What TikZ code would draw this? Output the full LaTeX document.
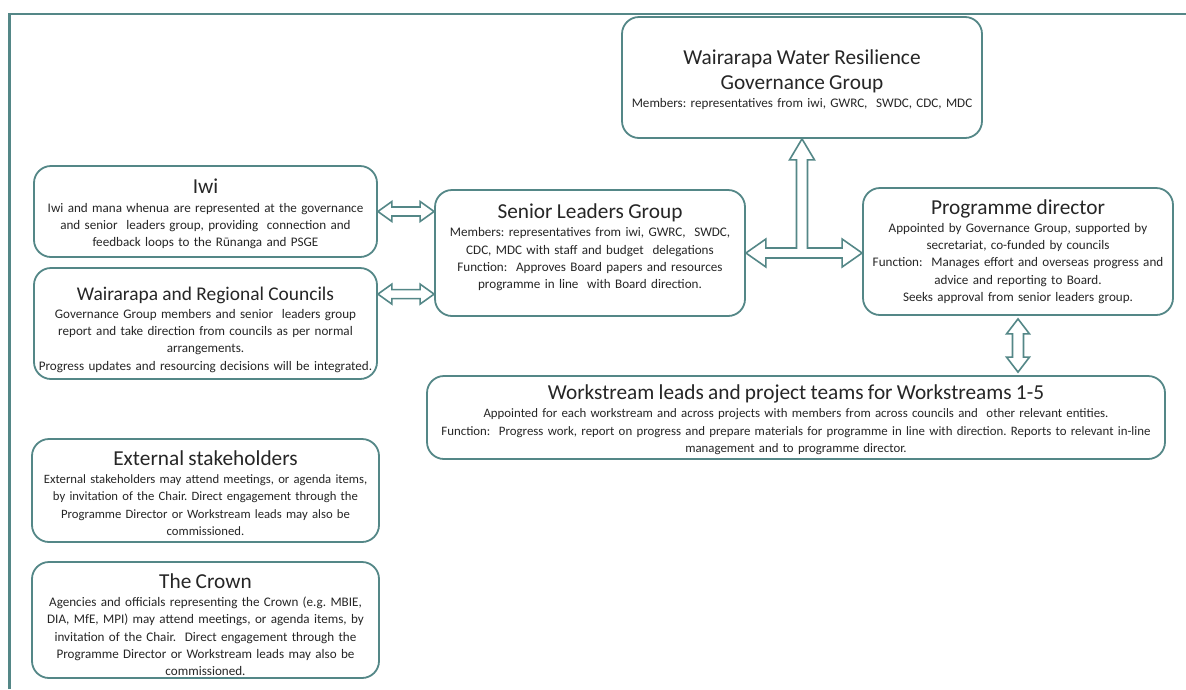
\documentclass[tikz,border=0pt]{standalone}
\usepackage{fontspec}
\setmainfont{Carlito}
\usetikzlibrary{calc}
\definecolor{edge}{RGB}{84,135,135}
\definecolor{ink}{RGB}{38,38,38}
\newcommand\boxtitle{\fontsize{21.3}{25}\selectfont}
\newcommand\smalltitle{\fontsize{19.4}{24}\selectfont}
\newcommand\boxbody{\fontsize{13.1}{17.3}\selectfont}
\setlength\parindent{0pt}
\frenchspacing
% horizontal double block arrow: left tip, right tip, head length, head half-height, shaft half-height
\newcommand\hdarrow[5]{%
  \draw[blk] let \p1=#1, \p2=#2 in
    (\x1,\y1) -- (\x1+#3pt,\y1+#4pt) -- (\x1+#3pt,\y1+#5pt) -- (\x2-#3pt,\y1+#5pt)
    -- (\x2-#3pt,\y1+#4pt) -- (\x2,\y1) -- (\x2-#3pt,\y1-#4pt) -- (\x2-#3pt,\y1-#5pt)
    -- (\x1+#3pt,\y1-#5pt) -- (\x1+#3pt,\y1-#4pt) -- cycle;}
% vertical double block arrow: top tip, bottom tip, head length, head half-width, shaft half-width
\newcommand\vdarrow[5]{%
  \draw[blk] let \p1=#1, \p2=#2 in
    (\x1,\y1) -- (\x1+#4pt,\y1-#3pt) -- (\x1+#5pt,\y1-#3pt) -- (\x1+#5pt,\y2+#3pt)
    -- (\x1+#4pt,\y2+#3pt) -- (\x1,\y2) -- (\x1-#4pt,\y2+#3pt) -- (\x1-#5pt,\y2+#3pt)
    -- (\x1-#5pt,\y1-#3pt) -- (\x1-#4pt,\y1-#3pt) -- cycle;}
\tikzset{
  box/.style={draw=edge, line width=1.8pt, rounded corners=17pt, fill=white, inner sep=0pt},
  txt/.style={text=ink, align=center, inner sep=0pt, font=\boxbody},
  blk/.style={draw=edge, line width=1.6pt, fill=white, line join=miter},
  frame/.style={draw=edge, line width=2.6pt}
}
\begin{document}
\begin{tikzpicture}[x=1pt,y=1pt]
\useasboundingbox (0,0) rectangle (1186,-689);
\fill[white] (0,0) rectangle (1186,-689);
% outer frame (top and left edges)
\draw[frame] (9.5,-689) -- (9.5,-14) -- (1186,-14);

% governance group
\node[box, minimum width=360, minimum height=121] (gov) at (802,-77.5) {};
\node[txt, text width=352] (govtext) at (802,-80)
  {{\boxtitle Wairarapa Water Resilience\\ Governance Group\par}\vspace{1pt}
   Members: representatives from iwi, GWRC,\ \ SWDC, CDC, MDC};

% left column
\node[box, minimum width=343, minimum height=91] (iwi) at (205.5,-211.5) {};
\node[txt, text width=339] (iwitext) at (205.5,-214)
  {{\boxtitle Iwi\par}\vspace{1pt}
   Iwi and mana whenua are represented at the governance\\
   and senior\ \ leaders group, providing\ \ connection and\\
   feedback loops to the Rūnanga and PSGE};
\node[box, minimum width=343, minimum height=111] (councils) at (205.5,-323.5) {};
\node[txt, text width=341] (councilstext) at (205.5,-329.5)
  {{\smalltitle Wairarapa and Regional Councils\par}\vspace{1pt}
   Governance Group members and senior\ \ leaders group\\
   report and take direction from councils as per normal\\
   arrangements.\\
   Progress updates and resourcing decisions will be integrated.};
\node[box, minimum width=347, minimum height=103] (ext) at (205.5,-490.5) {};
\node[txt, text width=343, font=\fontsize{12.7}{17.3}\selectfont] (exttext) at (205.5,-493)
  {{\boxtitle External stakeholders\par}\vspace{1pt}
   External stakeholders may attend meetings, or agenda items,\\
   by invitation of the Chair. Direct engagement through the\\
   Programme Director or Workstream leads may also be\\
   commissioned.};
\node[box, minimum width=347, minimum height=116] (crown) at (205.5,-620) {};
\node[txt, text width=343] (crowntext) at (205.5,-624.5)
  {{\boxtitle The Crown\par}\vspace{1pt}
   Agencies and officials representing the Crown (e.g. MBIE,\\
   DIA, MfE, MPI) may attend meetings, or agenda items, by\\
   invitation of the Chair.\ \ Direct engagement through the\\
   Programme Director or Workstream leads may also be\\
   commissioned.};

% centre and right
\node[box, minimum width=310, minimum height=126] (slg) at (590,-253) {};
\node[txt, text width=306] (slgtext) at (590,-247.5)
  {{\boxtitle Senior Leaders Group\par}\vspace{1pt}
   Members: representatives from iwi, GWRC,\ \ SWDC,\\
   CDC, MDC with staff and budget\ \ delegations\\
   Function:\ \ Approves Board papers and resources\\
   programme in line\ \ with Board direction.};
\node[box, minimum width=310, minimum height=127] (pd) at (1018,-251.5) {};
\node[txt, text width=306] (pdtext) at (1018,-251.5)
  {{\boxtitle Programme director\par}\vspace{1pt}
   Appointed by Governance Group, supported by\\
   secretariat, co-funded by councils\\
   Function:\ \ Manages effort and overseas progress and\\
   advice and reporting to Board.\\
   Seeks approval from senior leaders group.};
\node[box, minimum width=738, minimum height=83] (ws) at (796,-417.5) {};
\node[txt, text width=734, font=\fontsize{12.85}{17.5}\selectfont] (wstext) at (796,-419.5)
  {{\boxtitle Workstream leads and project teams for Workstreams 1-5\par}\vspace{1pt}
   Appointed for each workstream and across projects with members from across councils and\ \ other relevant entities.\\
   Function:\ \ Progress work, report on progress and prepare materials for programme in line with direction. Reports to relevant in-line\\
   management and to programme director.};

% connectors
\coordinate (cw) at ($(councils.north east)+(0,-27)$);
\hdarrow{(iwi.east)}{(slg.west |- iwi.east)}{14}{10}{4.5}
\hdarrow{(cw)}{(slg.west |- cw)}{14}{10}{4.5}
\vdarrow{($(pd.south)+(0,-3)$)}{($(pd.south |- ws.north)+(0,3)$)}{15}{11.5}{5.5}
% T-shaped arrow joining senior leaders, programme director and governance group
\draw[blk] let \p1=(slg.east), \p2=(pd.west), \p3=(gov.south) in
  (\x1,\y1) -- (\x1+20pt,\y1+14pt) -- (\x1+20pt,\y1+5pt) -- (\x3-5.5pt,\y1+5pt)
  -- (\x3-5.5pt,\y3-21pt) -- (\x3-12.5pt,\y3-21pt) -- (\x3,\y3) -- (\x3+12.5pt,\y3-21pt)
  -- (\x3+5.5pt,\y3-21pt) -- (\x3+5.5pt,\y1+5pt) -- (\x2-20pt,\y1+5pt) -- (\x2-20pt,\y1+14pt)
  -- (\x2,\y1) -- (\x2-20pt,\y1-14pt) -- (\x2-20pt,\y1-5pt) -- (\x1+20pt,\y1-5pt)
  -- (\x1+20pt,\y1-14pt) -- cycle;
\end{tikzpicture}
\end{document}
